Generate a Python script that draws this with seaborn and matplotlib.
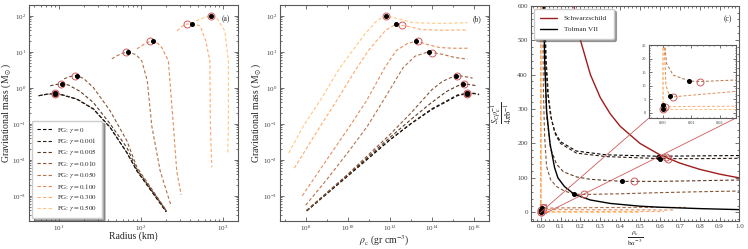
import numpy as np
import matplotlib.pyplot as plt
import seaborn as sns
from matplotlib.lines import Line2D
from matplotlib.ticker import LogLocator, NullFormatter, MultipleLocator
from mpl_toolkits.axes_grid1.inset_locator import mark_inset

# ------------------------------------------------------------
# data
# ------------------------------------------------------------
gammas = ["0", "0.001", "0.005", "0.010", "0.050", "0.100", "0.300", "0.500"]

# (a) mass-radius, from the high central density end to the low one
a_R = [
    [5.6, 7.0, 8.8, 10.2, 16.4, 26.2, 41.9, 67, 89, 202],
    [5.8, 7.2, 8.9, 10.3, 16.5, 26.3, 42, 67, 89, 203],
    [7.8, 9.2, 10.8, 13, 18, 26.2, 41.9, 67, 89, 205],
    [11.5, 13.5, 15.7, 16.7, 20, 26.2, 41.9, 67, 89, 205],
    [44, 52, 60, 65.6, 70, 87, 102, 119, 135, 171, 232],
    [89, 105, 129, 138, 160, 180, 215, 248, 272, 308],
    [275, 310, 361, 423, 525, 615, 690, 700, 728],
    [468, 580, 708, 838, 1050, 1160, 1160, 1140],
]
a_M = [
    [0.60, 0.66, 0.69, 0.66, 0.485, 0.257, 0.079, 0.0158, 0.0049, 3.6e-4],
    [0.61, 0.67, 0.70, 0.67, 0.49, 0.26, 0.08, 0.016, 0.005, 3.7e-4],
    [1.14, 1.24, 1.29, 1.2, 0.8, 0.39, 0.1, 0.022, 0.0055, 3.7e-4],
    [1.78, 2.05, 2.19, 2.19, 1.8, 1.02, 0.23, 0.034, 0.0062, 3.8e-4],
    [6.4, 8.0, 9.2, 9.8, 9.9, 8.3, 5.6, 1.56, 0.087, 0.0049, 5.3e-4],
    [12.1, 15.5, 19.8, 20, 17, 12.9, 5.6, 0.087, 0.0049, 1.07e-3],
    [38, 50, 59, 59.5, 53, 20, 5.6, 0.087, 6.2e-3],
    [73, 88, 100, 87, 38, 5.6, 0.087, 0.0158],
]
a_dot_R = [8.8, 8.9, 11.0, 16.7, 70, 138, 423, 708]
a_dot_M = [0.69, 0.70, 1.29, 2.19, 9.9, 20, 59.5, 100]
a_ring_R = [8.8, 8.9, 10.6, 15.7, 65.6, 129, 361, 708]
a_ring_M = [0.69, 0.70, 1.29, 2.19, 9.8, 19.8, 59, 100]

# (b) mass vs central density (log10 values)
b_logrho = [
    [8.05, 10.0, 12.0, 13.0, 14.0, 14.7, 15.2, 15.67, 16.0, 16.24],
    [8.05, 10.0, 12.0, 13.0, 14.0, 14.7, 15.2, 15.67, 16.0, 16.24],
    [8.05, 10.0, 12.0, 13.0, 14.0, 14.7, 15.2, 15.48, 15.8, 16.12],
    [8.05, 10.0, 12.0, 13.0, 14.0, 14.5, 15.12, 15.5, 15.93],
    [8.0, 9.0, 10.0, 10.94, 11.68, 12.63, 13.2, 13.84, 14.5, 15.1, 15.69],
    [7.84, 9.0, 10.1, 10.89, 11.76, 12.3, 12.8, 13.24, 13.8, 14.37, 15.0, 15.69],
    [7.46, 8.68, 9.47, 10.34, 11.0, 11.8, 12.29, 12.9, 13.5, 14.5, 15.69],
    [7.20, 7.89, 8.68, 9.63, 10.81, 11.37, 11.80, 12.4, 13.1, 14.4, 15.69],
]
b_logM = [
    [-3.42, -2.45, -1.45, -1.0, -0.6, -0.38, -0.22, -0.16, -0.16, -0.19],
    [-3.41, -2.44, -1.44, -0.99, -0.58, -0.36, -0.2, -0.15, -0.15, -0.18],
    [-3.41, -2.42, -1.38, -0.88, -0.4, -0.1, 0.05, 0.11, 0.09, 0.06],
    [-3.4, -2.4, -1.3, -0.7, -0.05, 0.18, 0.34, 0.32, 0.27],
    [-3.26, -2.55, -1.8, -1.06, -0.36, 0.56, 0.88, 1.0, 0.93, 0.84, 0.80],
    [-3.0, -2.0, -1.06, -0.36, 0.56, 1.03, 1.22, 1.30, 1.2, 1.12, 1.1, 1.10],
    [-2.23, -1.08, -0.36, 0.47, 1.05, 1.6, 1.77, 1.7, 1.62, 1.60, 1.61],
    [-1.81, -1.06, -0.36, 0.56, 1.49, 1.86, 2.0, 1.92, 1.81, 1.79, 1.81],
]
b_dot_logrho = [15.67, 15.67, 15.48, 15.12, 13.84, 13.24, 12.29, 11.80]
b_dot_logM = [-0.16, -0.15, 0.11, 0.34, 1.0, 1.30, 1.77, 2.0]
b_ring_logrho = [15.67, 15.67, 15.53, 15.21, 13.98, 13.35, 12.59, 11.80]
b_ring_logM = [-0.16, -0.15, 0.10, 0.34, 0.98, 1.30, 1.75, 2.0]

# (c) entropy-like quantity vs scaled central density
c_x = [
    [0.018, 0.025, 0.035, 0.05, 0.07, 0.1, 0.18, 0.33, 0.59, 0.8, 1.0],
    [0.02, 0.028, 0.04, 0.055, 0.075, 0.1, 0.18, 0.33, 0.6, 0.8, 1.0],
    [0.015, 0.02, 0.03, 0.05, 0.08, 0.114, 0.18, 0.25, 0.41, 0.6, 0.8, 1.0],
    [0.01, 0.014, 0.02, 0.03, 0.05, 0.08, 0.12, 0.17, 0.22, 0.4, 0.58, 0.8, 1.0],
    [0.0003, 0.0005, 0.0008, 0.0014, 0.0037, 0.0093, 0.013, 0.026, 0.1, 0.3, 0.73],
    [0.0002, 0.0004, 0.0012, 0.0025, 0.0035, 0.0084, 0.026, 0.1, 0.3, 0.675],
    [0.0001, 0.0001, 0.0002, 0.0008, 0.026, 0.2, 0.62],
    [0.0, 0.0, 0.0, 0.026, 0.5],
]
c_y = [
    [600, 450, 350, 280, 235, 205, 178, 167, 163, 164, 165],
    [600, 440, 330, 270, 225, 200, 172, 162, 156, 156, 157],
    [600, 420, 280, 185, 140, 118, 103, 96, 90, 90, 92, 94],
    [600, 350, 220, 133, 95, 75, 62, 53, 52, 54, 57, 60, 62],
    [600, 60, 25, 18.2, 13.9, 11.7, 11.5, 12.1, 13, 14, 14.5],
    [600, 30, 10, 6.1, 5.8, 6.3, 7.9, 8, 7.5, 7],
    [600, 10, 3.0, 2.2, 2.4, 2.4, 2.5],
    [600, 5, 1.2, 1.2, 1.2],
]
c_dot_x = [0.59, 0.60, 0.41, 0.17, 0.0093, 0.0025, 0.0002, 0.0]
c_dot_y = [162, 155, 90, 52, 11.7, 6.1, 3.0, 1.2]
c_ring_x = [0.63, 0.64, 0.47, 0.22, 0.013, 0.0035, 0.0008, 0.0]
c_ring_y = [160, 156, 90, 52, 11.5, 5.8, 2.2, 1.2]

schw_x = [0.167, 0.2, 0.25, 0.3, 0.35, 0.4, 0.5, 0.6, 0.7, 0.8, 0.9, 1.0]
schw_y = [600, 500, 400, 333, 286, 250, 200, 167, 143, 125, 111, 100]
tol_x = [0.015, 0.02, 0.03, 0.047, 0.07, 0.087, 0.12, 0.17, 0.25, 0.35, 0.5, 0.6, 0.8, 1.0]
tol_y = [600, 450, 294, 200, 130, 100, 75, 52, 36, 26, 18, 15, 11, 8]

mass_ticks = [1e-3, 1e-2, 1e-1, 1, 10, 100]

# ------------------------------------------------------------
# style
# ------------------------------------------------------------
sns.set_style("ticks", {"xtick.direction": "in", "ytick.direction": "in"})
plt.rcParams["font.family"] = ["serif"]
plt.rcParams["font.serif"] = ["Liberation Serif", "DejaVu Serif"]
plt.rcParams["mathtext.fontset"] = "stix"
plt.rcParams["axes.edgecolor"] = "0.35"
plt.rcParams["axes.linewidth"] = 0.8

colors = plt.cm.copper(np.linspace(0, 1, len(gammas)))
ring_col = "indianred"
dash = (0, (3, 2))
lab_fs = 7

fig = plt.figure(figsize=(7.48, 2.49), dpi=100)
ax_a = fig.add_axes([0.0388, 0.1124, 0.2794, 0.8675])
ax_b = fig.add_axes([0.3743, 0.1124, 0.2794, 0.8675])
ax_c = fig.add_axes([0.7095, 0.1124, 0.2791, 0.8650])
ax_in = fig.add_axes([0.8676, 0.526, 0.1163, 0.293])


def style_axes(ax, size=5):
    ax.tick_params(which="both", top=True, right=True, direction="in",
                   labelsize=size, colors="0.35", labelcolor="0.25", width=0.6,
                   pad=2)
    ax.tick_params(which="major", length=2.8)
    ax.tick_params(which="minor", length=1.4)


def fg_curves(ax, xs, ys, lw=0.8):
    for i in range(len(gammas)):
        sns.lineplot(x=xs[i], y=ys[i], ax=ax, color=colors[i], sort=False,
                     estimator=None, lw=lw, linestyle=dash)


def mass_axis(ax):
    ax.set_yscale("log")
    ax.set_ylim(2e-4, 2e2)
    ax.set_yticks(mass_ticks)
    ax.yaxis.set_minor_locator(LogLocator(base=10, subs=np.arange(2, 10), numticks=30))
    ax.yaxis.set_minor_formatter(NullFormatter())


# ---------------- (a) ----------------
fg_curves(ax_a, a_R, a_M)
ax_a.plot(a_ring_R, a_ring_M, "o", ms=5, mfc="none", mec=ring_col, mew=0.7, zorder=5)
ax_a.plot(a_dot_R, a_dot_M, "o", ms=2.6, color="black", zorder=6)
ax_a.set_xscale("log")
ax_a.set_xlim(4.3, 1520)
ax_a.set_xticks([10, 100, 1000])
ax_a.xaxis.set_minor_locator(LogLocator(base=10, subs=np.arange(2, 10), numticks=30))
ax_a.xaxis.set_minor_formatter(NullFormatter())
mass_axis(ax_a)
ax_a.set_xlabel("Radius (km)", fontsize=lab_fs)
ax_a.set_ylabel(r"Gravitational mass (M$_\odot$)", fontsize=lab_fs)
ax_a.xaxis.set_label_coords(0.5, -0.05)
ax_a.yaxis.set_label_coords(-0.077, 0.5)
ax_a.text(0.962, 0.935, "(a)", transform=ax_a.transAxes, ha="right", va="center",
          fontsize=5.5)
handles = [Line2D([], [], color=colors[i], lw=0.8, linestyle=dash)
           for i in range(len(gammas))]
labels = [rf"FG: $\gamma = {g}$" for g in gammas]
ax_a.legend(handles, labels, loc="lower left", fontsize=5, frameon=True,
            shadow=True, fancybox=True, edgecolor="0.8", framealpha=1,
            handlelength=2.3, handletextpad=0.7, labelspacing=0.2,
            borderpad=0.7, borderaxespad=0.4)
style_axes(ax_a)

# ---------------- (b) ----------------
b_rho = [10 ** np.array(r) for r in b_logrho]
b_M = [10 ** np.array(m) for m in b_logM]
fg_curves(ax_b, b_rho, b_M)
ax_b.plot(10 ** np.array(b_ring_logrho), 10 ** np.array(b_ring_logM), "o", ms=5,
          mfc="none", mec=ring_col, mew=0.7, zorder=5)
ax_b.plot(10 ** np.array(b_dot_logrho), 10 ** np.array(b_dot_logM), "o", ms=2.6,
          color="black", zorder=6)
ax_b.set_xscale("log")
ax_b.set_xlim(10 ** 6.78, 10 ** 16.71)
ax_b.set_xticks([1e8, 1e10, 1e12, 1e14, 1e16])
ax_b.xaxis.set_minor_locator(LogLocator(base=10, subs=(1.0,), numticks=30))
ax_b.xaxis.set_minor_formatter(NullFormatter())
mass_axis(ax_b)
ax_b.set_xlabel(r"$\rho_{\rm c}$ (gr cm$^{-3}$)", fontsize=lab_fs)
ax_b.set_ylabel(r"Gravitational mass (M$_\odot$)", fontsize=lab_fs)
ax_b.xaxis.set_label_coords(0.5, -0.06)
ax_b.yaxis.set_label_coords(-0.081, 0.5)
ax_b.text(0.962, 0.935, "(b)", transform=ax_b.transAxes, ha="right", va="center",
          fontsize=5.5)
style_axes(ax_b)

# ---------------- (c) ----------------
for ax, lw in [(ax_c, 0.8), (ax_in, 0.7)]:
    fg_curves(ax, c_x, c_y, lw=lw)
    sns.lineplot(x=schw_x, y=schw_y, ax=ax, color="#a01c1c", sort=False,
                 estimator=None, lw=1.0)
    sns.lineplot(x=tol_x, y=tol_y, ax=ax, color="black", sort=False,
                 estimator=None, lw=1.0)
    ax.plot(c_ring_x, c_ring_y, "o", ms=5, mfc="none", mec=ring_col, mew=0.7, zorder=5)
    ax.plot(c_dot_x, c_dot_y, "o", ms=2.6, color="black", zorder=6)

ax_c.set_xlim(-0.05, 1.0)
ax_c.set_ylim(-25, 600)
ax_c.xaxis.set_major_locator(MultipleLocator(0.1))
ax_c.xaxis.set_minor_locator(MultipleLocator(0.02))
ax_c.yaxis.set_major_locator(MultipleLocator(100))
ax_c.yaxis.set_minor_locator(MultipleLocator(20))
ax_c.set_xlabel(r"$\frac{\rho_{\rm c}}{{\rm b}a^{-3}}$", fontsize=7.5)
ax_c.set_ylabel(r"$\frac{S_C\rho_{\rm c}^{-1}}{4\pi {\rm b}^{-1}}$", fontsize=8.5)
ax_c.xaxis.set_label_coords(0.5, -0.04)
ax_c.yaxis.set_label_coords(-0.08, 0.5)
ax_c.text(0.962, 0.935, "(c)", transform=ax_c.transAxes, ha="right", va="center",
          fontsize=5.5)
leg_h = [Line2D([], [], color="#a01c1c", lw=1.0), Line2D([], [], color="black", lw=1.0)]
ax_c.legend(leg_h, ["Schwarzschild", "Tolman VII"], loc="upper left", fontsize=5.2,
            frameon=True, shadow=True, fancybox=True, edgecolor="0.8",
            framealpha=1, handlelength=2.3, handletextpad=1.0, borderpad=0.9,
            labelspacing=0.7, borderaxespad=0.4)
style_axes(ax_c)

ax_in.set_xlim(-0.0047, 0.0255)
ax_in.set_ylim(-2, 25)
ax_in.xaxis.set_minor_locator(MultipleLocator(0.002))
ax_in.yaxis.set_major_locator(MultipleLocator(5))
ax_in.yaxis.set_minor_locator(MultipleLocator(1))
ax_in.set_xticks([0.0, 0.01, 0.02])
ax_in.set_xticklabels(["0.00", "0.01", "0.02"])
style_axes(ax_in, size=3.2)
ax_in.tick_params(which="major", length=2)
ax_in.tick_params(which="minor", length=1)
mark_inset(ax_c, ax_in, loc1=3, loc2=4, fc="none", ec=ring_col, lw=0.6)

fig.savefig("out.png", dpi=100)
